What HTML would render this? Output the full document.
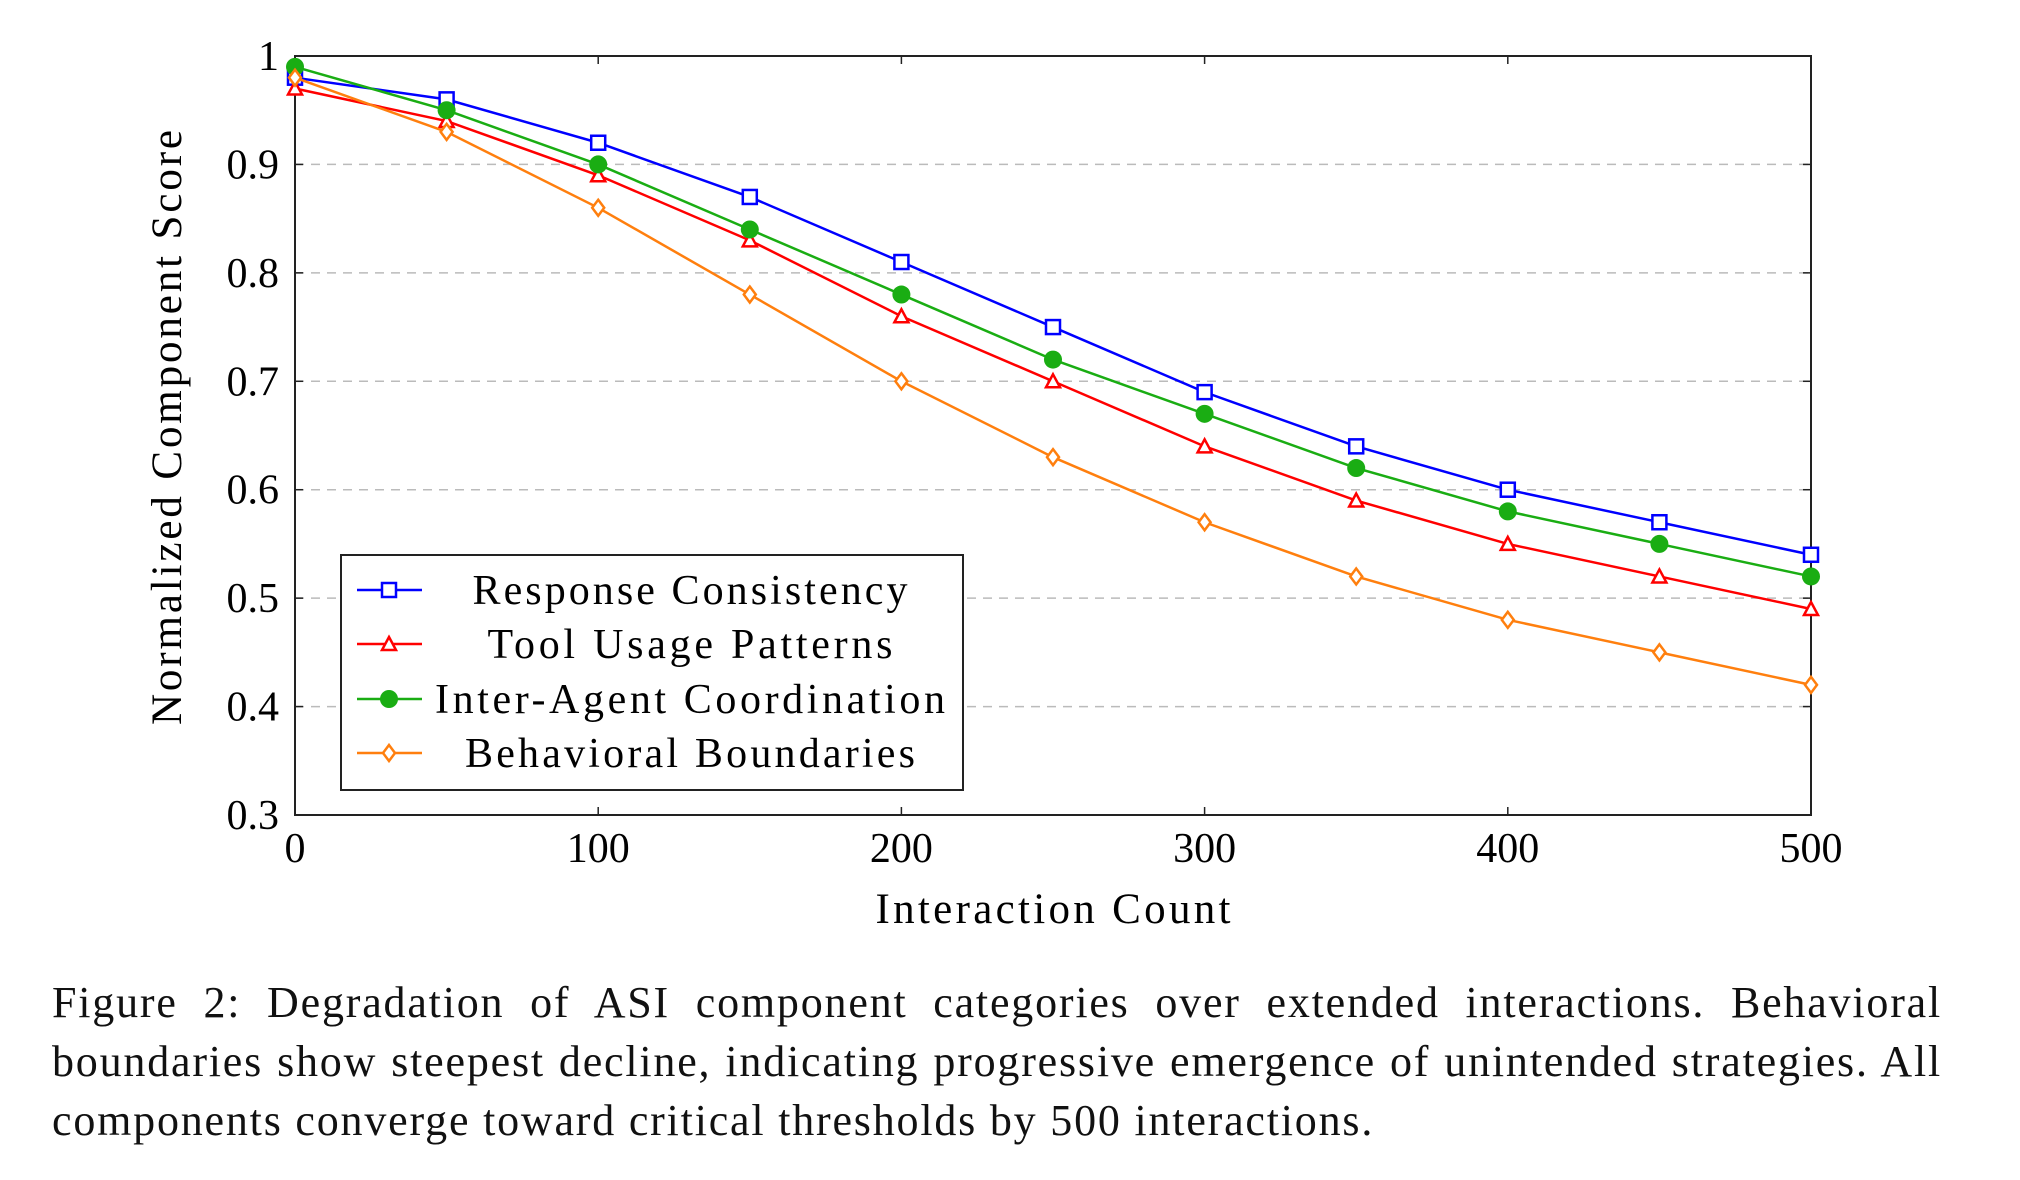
<!DOCTYPE html>
<html><head><meta charset="utf-8"><style>
body{margin:0;background:#fff;width:2020px;height:1180px;overflow:hidden;font-family:"Liberation Serif",serif}
#cap{position:absolute;left:52px;top:973px;width:1890px;font-size:44px;line-height:59px;letter-spacing:1.8px;color:#111}
#cap div{text-align:justify;text-align-last:justify;white-space:nowrap}
#cap div.last{text-align-last:left}
</style></head><body>
<svg id="chart" width="2020" height="960" style="position:absolute;left:0;top:0" font-family="Liberation Serif, serif"></svg>
<div id="cap"><div>Figure 2: Degradation of ASI component categories over extended interactions. Behavioral</div><div>boundaries show steepest decline, indicating progressive emergence of unintended strategies. All</div><div class="last">components converge toward critical thresholds by 500 interactions.</div></div>
<script>
const xs=[0,50,100,150,200,250,300,350,400,450,500];
const seriesNames=["Response Consistency","Tool Usage Patterns","Inter-Agent Coordination","Behavioral Boundaries"];
const respVals=[0.98,0.96,0.92,0.87,0.81,0.75,0.69,0.64,0.60,0.57,0.54];
const toolVals=[0.97,0.94,0.89,0.83,0.76,0.70,0.64,0.59,0.55,0.52,0.49];
const coordVals=[0.99,0.95,0.90,0.84,0.78,0.72,0.67,0.62,0.58,0.55,0.52];
const behavVals=[0.98,0.93,0.86,0.78,0.70,0.63,0.57,0.52,0.48,0.45,0.42];
const xTicks=[0,100,200,300,400,500];
const yTicks=[0.3,0.4,0.5,0.6,0.7,0.8,0.9,1];
const yTickLabels=["0.3","0.4","0.5","0.6","0.7","0.8","0.9","1"];
const L=295,R=1811,T=56,B=815;
const X=v=>L+(v-0)/(500-0)*(R-L);
const Y=v=>B-(v-0.3)/(1-0.3)*(B-T);
const svg=document.getElementById('chart');
const NS='http://www.w3.org/2000/svg';
function mk(tag,attrs,parent){const e=document.createElementNS(NS,tag);for(const k in attrs)e.setAttribute(k,attrs[k]);(parent||svg).appendChild(e);return e;}
yTicks.forEach((t,i)=>{
 if(t>0.3&&t<1){const g=mk('line',{x1:L,x2:R,y1:Y(t),y2:Y(t),stroke:'#bbb','stroke-width':1.5,'stroke-dasharray':'9 7'});
 
 }
 const tx=mk('text',{x:L-16,y:Y(t)+14,'text-anchor':'end','font-size':42});tx.textContent=yTickLabels[i];
 
 
 mk('line',{x1:L,x2:L+8,y1:Y(t),y2:Y(t),stroke:'#222','stroke-width':1.5});
 mk('line',{x1:R-8,x2:R,y1:Y(t),y2:Y(t),stroke:'#222','stroke-width':1.5});
});
xTicks.forEach(t=>{
 const tx=mk('text',{x:X(t),y:862,'text-anchor':'middle','font-size':42});tx.textContent=t;
 
 
 mk('line',{x1:X(t),x2:X(t),y1:B,y2:B-8,stroke:'#222','stroke-width':1.5});
 mk('line',{x1:X(t),x2:X(t),y1:T,y2:T+8,stroke:'#222','stroke-width':1.5});
});
const frame=mk('rect',{x:L,y:T,width:R-L,height:B-T,fill:'none',stroke:'#222','stroke-width':2});


const colors=['#0000ff','#ff0000','#1aad13','#ff7f0e'];
const allVals=[respVals,toolVals,coordVals,behavVals];
function marker(k,cx,cy,g){
 if(k===0)return mk('rect',{x:cx-7,y:cy-7,width:14,height:14,fill:'#fff',stroke:colors[0],'stroke-width':2.5},g);
 if(k===1)return mk('polygon',{points:`${cx},${cy-7} ${cx+7},${cy+6} ${cx-7},${cy+6}`,fill:'#fff',stroke:colors[1],'stroke-width':2.5},g);
 if(k===2)return mk('circle',{cx:cx,cy:cy,r:9,fill:colors[2]},g);
 return mk('polygon',{points:`${cx},${cy-8} ${cx+6},${cy} ${cx},${cy+8} ${cx-6},${cy}`,fill:'#fff',stroke:colors[3],'stroke-width':2.5},g);
}
allVals.forEach((vals,k)=>{
 const g=mk('g',{});
 
 
 const p=mk('polyline',{points:vals.map((v,i)=>X(xs[i])+','+Y(v)).join(' '),fill:'none',stroke:colors[k],'stroke-width':2.5},g);
 
 
 vals.forEach((v,i)=>{const m=marker(k,X(xs[i]),Y(v),g);
  
  });
});
const lg=mk('g',{});


mk('rect',{x:341,y:555,width:622,height:235,fill:'#fff',stroke:'#222','stroke-width':2},lg);
const ly=[590,644,699,753];
const lw=[435,405,510,450];
seriesNames.forEach((n,k)=>{
 const e=mk('g',{},lg);
 
 
 mk('line',{x1:357,x2:422,y1:ly[k],y2:ly[k],stroke:colors[k],'stroke-width':2.5},e);
 marker(k,389,ly[k],e);
 const t=mk('text',{x:690,y:ly[k]+14,'text-anchor':'middle','font-size':42,textLength:lw[k],lengthAdjust:'spacing'},e);t.textContent=n;
});
const xt=mk('text',{x:(L+R)/2,y:923,'text-anchor':'middle','font-size':43,textLength:355,lengthAdjust:'spacing'});xt.textContent='Interaction Count';


const yt=mk('text',{x:0,y:0,'text-anchor':'middle','font-size':43,textLength:595,lengthAdjust:'spacing',transform:`translate(181,${(T+B)/2-8}) rotate(-90)`});yt.textContent='Normalized Component Score';


</script>
</body></html>
